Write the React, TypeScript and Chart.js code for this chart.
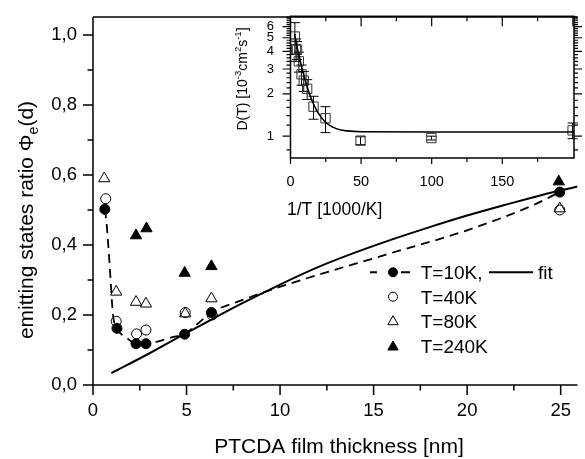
import React, { useEffect, useRef } from 'react';
import { Chart, registerables } from 'chart.js';

Chart.register(...registerables);

const FONT = "'Liberation Sans', Arial, Helvetica, sans-serif";

// ---------- main plot data ----------
const xTicksMain = [0, 5, 10, 15, 20, 25];
const xMinorMain = [2.5, 7.5, 12.5, 17.5, 22.5];
const yTicksMain = [0, 0.2, 0.4, 0.6, 0.8, 1.0];
const yMinorMain = [0.1, 0.3, 0.5, 0.7, 0.9];

const dT10 = [0.63, 1.28, 2.3, 2.83, 4.9, 6.33, 24.95];
const phiT10 = [0.502, 0.162, 0.118, 0.118, 0.145, 0.207, 0.551];

const dT40 = [0.68, 1.24, 2.33, 2.83, 4.93, 6.37, 24.95];
const phiT40 = [0.532, 0.182, 0.146, 0.157, 0.207, 0.2, 0.5];

const dT80 = [0.6, 1.24, 2.3, 2.83, 4.93, 6.33, 24.95];
const phiT80 = [0.59, 0.266, 0.237, 0.232, 0.204, 0.247, 0.504];

const dT240 = [2.3, 2.86, 4.9, 6.33, 24.9];
const phiT240 = [0.427, 0.447, 0.32, 0.339, 0.581];

// dashed guide through T=10K
const dGuide = [0.63, 0.72, 0.9, 1.07, 1.28, 1.8, 2.3, 2.83, 3.3, 4.2, 4.9, 5.6, 6.33, 7.74, 10.37, 15.63, 20, 23.5, 24.95];
const phiGuide = [0.502, 0.466, 0.334, 0.2, 0.162, 0.135, 0.118, 0.118, 0.122, 0.136, 0.146, 0.175, 0.207, 0.238, 0.287, 0.372, 0.442, 0.513, 0.551];

// solid fit
const dFit = [0.98, 3, 4.9, 6.3, 7.7, 10, 12, 14, 16, 18, 20, 22, 24, 25.9];
const phiFit = [0.034, 0.09, 0.146, 0.186, 0.226, 0.287, 0.336, 0.378, 0.416, 0.451, 0.484, 0.514, 0.543, 0.567];

const legendLabels = ['T=10K,', 'T=40K', 'T=80K', 'T=240K'];
const fitLabel = 'fit';

// ---------- inset data ----------
const xTicksInset = [0, 50, 100, 150];
const xMinorInset = [25, 75, 125, 175];
const xMajorInsetTop = [50, 100, 150, 200];
const yTicksInset = [1, 2, 3, 4, 5, 6];
const yMinorInset = [0.8, 1.2, 1.4, 1.6, 1.8, 2.2, 2.4, 2.6, 2.8, 3.2, 3.4, 3.6, 3.8, 4.2, 4.4, 4.6, 4.8, 5.2, 5.4, 5.6, 5.8, 6.2, 6.4, 6.6, 6.8, 7.0];

const invT = [3.1, 3.9, 4.6, 5.9, 7.8, 9.4, 11.8, 16.3, 24.8, 49.6, 99.8, 199.8];
const diffD = [5.1, 4.15, 4.1, 3.4, 2.75, 2.48, 2.17, 1.62, 1.34, 0.93, 0.97, 1.1];
const diffErr = [1.3, 0.75, 0.6, 0.55, 0.45, 0.4, 0.35, 0.3, 0.28, 0.06, 0.03, 0.14];

const invTFit = [3, 4, 5, 6, 8, 10, 12, 14, 16, 18, 20, 25, 30, 35, 40, 50, 100, 201];
const dFitInset = [5.3, 4.6, 4.15, 3.74, 3.08, 2.58, 2.21, 1.93, 1.72, 1.56, 1.44, 1.25, 1.16, 1.11, 1.09, 1.075, 1.07, 1.07];

const insetXTitle = '1/T [1000/K]';
const mainXTitle = 'PTCDA film thickness [nm]';

const pts = (xs: number[], ys: number[]) => xs.map((x, i) => ({ x, y: ys[i] }));

function marker(ctx: CanvasRenderingContext2D, kind: string, x: number, y: number, r: number, filled: boolean) {
  ctx.beginPath();
  if (kind === 'circle') {
    ctx.arc(x, y, r, 0, Math.PI * 2);
  } else {
    for (let k = 0; k < 3; k++) {
      const a = (k * 2 * Math.PI) / 3;
      const px = x + Math.sin(a) * r;
      const py = y - Math.cos(a) * r;
      if (k === 0) ctx.moveTo(px, py);
      else ctx.lineTo(px, py);
    }
    ctx.closePath();
  }
  if (filled) {
    ctx.fillStyle = '#000';
    ctx.fill();
  }
  ctx.strokeStyle = '#000';
  ctx.lineWidth = 1;
  ctx.stroke();
}

function drawSegments(ctx: CanvasRenderingContext2D, segs: { t: string; size: number; dy: number }[], cx: number) {
  let total = 0;
  const widths = segs.map((s) => {
    ctx.font = `${s.size}px ${FONT}`;
    const w = ctx.measureText(s.t).width;
    total += w;
    return w;
  });
  let x = cx - total / 2;
  segs.forEach((s, i) => {
    ctx.font = `${s.size}px ${FONT}`;
    ctx.fillText(s.t, x, s.dy);
    x += widths[i];
  });
}

const mainDecor = {
  id: 'mainDecor',
  afterDraw(chart: any) {
    const { ctx, chartArea: a } = chart;
    const xs = chart.scales.x;
    const ys = chart.scales.y;
    ctx.save();
    ctx.strokeStyle = '#000';
    ctx.lineWidth = 1.5;
    ctx.beginPath();
    ctx.moveTo(a.left, a.top);
    ctx.lineTo(a.left, a.bottom);
    ctx.lineTo(a.right, a.bottom);
    ctx.moveTo(a.left, a.top);
    ctx.lineTo(a.right, a.top);
    ctx.stroke();
    ctx.beginPath();
    xTicksMain.forEach((v) => {
      const p = xs.getPixelForValue(v);
      ctx.moveTo(p, a.bottom);
      ctx.lineTo(p, a.bottom + 10);
    });
    xMinorMain.forEach((v) => {
      const p = xs.getPixelForValue(v);
      ctx.moveTo(p, a.bottom);
      ctx.lineTo(p, a.bottom + 5.5);
    });
    yTicksMain.forEach((v) => {
      const p = ys.getPixelForValue(v);
      ctx.moveTo(a.left, p);
      ctx.lineTo(a.left - 10, p);
    });
    yMinorMain.forEach((v) => {
      const p = ys.getPixelForValue(v);
      ctx.moveTo(a.left, p);
      ctx.lineTo(a.left - 5.5, p);
    });
    ctx.stroke();

    // axis titles
    ctx.fillStyle = '#000';
    ctx.textBaseline = 'alphabetic';
    ctx.textAlign = 'left';
    ctx.font = `21px ${FONT}`;
    const tw = ctx.measureText(mainXTitle).width;
    ctx.fillText(mainXTitle, 339 - tw / 2, 453);

    ctx.save();
    ctx.translate(33, 220);
    ctx.rotate(-Math.PI / 2);
    drawSegments(
      ctx,
      [
        { t: 'emitting states ratio \u03A6', size: 21, dy: 0 },
        { t: 'e', size: 14, dy: 5 },
        { t: '(d)', size: 21, dy: 0 },
      ],
      0
    );
    ctx.restore();

    // legend
    const rows = [272.3, 296.7, 320.7, 346];
    const mx = 393;
    ctx.lineWidth = 2;
    ctx.beginPath();
    ctx.moveTo(370, rows[0]);
    ctx.lineTo(377, rows[0]);
    ctx.moveTo(401, rows[0]);
    ctx.lineTo(410, rows[0]);
    ctx.moveTo(489, rows[0]);
    ctx.lineTo(533, rows[0]);
    ctx.stroke();
    marker(ctx, 'circle', mx, rows[0], 4.5, true);
    marker(ctx, 'circle', mx, rows[1], 4.5, false);
    marker(ctx, 'triangle', mx, rows[2] + 1, 6, false);
    marker(ctx, 'triangle', mx, rows[3] + 1, 6, true);
    ctx.font = `19px ${FONT}`;
    ctx.fillStyle = '#000';
    legendLabels.forEach((l, i) => ctx.fillText(l, 420.7, rows[i] + 6.8));
    ctx.fillText(fitLabel, 538, rows[0] + 6.8);
    ctx.restore();
  },
};

const insetDecor = {
  id: 'insetDecor',
  beforeDatasetsDraw(chart: any) {
    const { ctx } = chart;
    const xs = chart.scales.x;
    const ys = chart.scales.y;
    ctx.save();
    ctx.strokeStyle = '#000';
    ctx.lineWidth = 1;
    ctx.beginPath();
    invT.forEach((x, i) => {
      const px = xs.getPixelForValue(x);
      const top = ys.getPixelForValue(diffD[i] + diffErr[i]);
      const bot = ys.getPixelForValue(diffD[i] - diffErr[i]);
      ctx.moveTo(px, top);
      ctx.lineTo(px, bot);
      ctx.moveTo(px - 5, top);
      ctx.lineTo(px + 5, top);
      ctx.moveTo(px - 5, bot);
      ctx.lineTo(px + 5, bot);
    });
    ctx.stroke();
    ctx.restore();
  },
  afterDraw(chart: any) {
    const { ctx, chartArea: a } = chart;
    const xs = chart.scales.x;
    const ys = chart.scales.y;
    ctx.save();
    ctx.strokeStyle = '#000';
    ctx.lineWidth = 1.5;
    ctx.strokeRect(a.left, a.top, a.right - a.left, a.bottom - a.top);
    ctx.lineWidth = 1.2;
    ctx.beginPath();
    xTicksInset.forEach((v) => {
      const p = xs.getPixelForValue(v);
      ctx.moveTo(p, a.bottom);
      ctx.lineTo(p, a.bottom + 6);
    });
    xMinorInset.forEach((v) => {
      const p = xs.getPixelForValue(v);
      ctx.moveTo(p, a.bottom);
      ctx.lineTo(p, a.bottom + 4);
      ctx.moveTo(p, a.top);
      ctx.lineTo(p, a.top + 5);
    });
    xMajorInsetTop.forEach((v) => {
      const p = xs.getPixelForValue(v);
      ctx.moveTo(p, a.top);
      ctx.lineTo(p, a.top + 10);
    });
    yTicksInset.forEach((v) => {
      const p = ys.getPixelForValue(v);
      ctx.moveTo(a.left, p);
      ctx.lineTo(a.left - 8, p);
      ctx.moveTo(a.right, p);
      ctx.lineTo(a.right + 8, p);
    });
    yMinorInset.forEach((v) => {
      const p = ys.getPixelForValue(v);
      ctx.moveTo(a.left, p);
      ctx.lineTo(a.left - 4, p);
      ctx.moveTo(a.right, p);
      ctx.lineTo(a.right + 4, p);
    });
    ctx.stroke();

    ctx.fillStyle = '#000';
    ctx.textAlign = 'left';
    ctx.textBaseline = 'alphabetic';
    ctx.font = `17.5px ${FONT}`;
    ctx.fillText(insetXTitle, 287, 215);

    ctx.save();
    ctx.translate(247, 79);
    ctx.rotate(-Math.PI / 2);
    drawSegments(
      ctx,
      [
        { t: 'D(T) [10', size: 14, dy: 0 },
        { t: '-3', size: 9.5, dy: -6 },
        { t: 'cm', size: 14, dy: 0 },
        { t: '2', size: 9.5, dy: -6 },
        { t: 's', size: 14, dy: 0 },
        { t: '-1', size: 9.5, dy: -6 },
        { t: ']', size: 14, dy: 0 },
      ],
      0
    );
    ctx.restore();
    ctx.restore();
  },
};

export default function App() {
  const mainRef = useRef<HTMLCanvasElement>(null);
  const insetRef = useRef<HTMLCanvasElement>(null);

  useEffect(() => {
    document.body.style.margin = '0';
    const main = new Chart(mainRef.current as HTMLCanvasElement, {
      type: 'scatter',
      data: {
        datasets: [
          {
            data: pts(dFit, phiFit),
            showLine: true,
            pointRadius: 0,
            borderColor: '#000',
            borderWidth: 2,
            cubicInterpolationMode: 'monotone',
            fill: false,
          } as any,
          {
            data: pts(dGuide, phiGuide),
            showLine: true,
            pointRadius: 0,
            borderColor: '#000',
            borderWidth: 1.8,
            borderDash: [9, 6],
            cubicInterpolationMode: 'monotone',
            fill: false,
          } as any,
          {
            data: pts(dT80, phiT80),
            pointStyle: 'triangle',
            pointRadius: 6.5,
            backgroundColor: 'rgba(0,0,0,0)',
            borderColor: '#000',
            borderWidth: 1,
          },
          {
            data: pts(dT40, phiT40),
            pointStyle: 'circle',
            pointRadius: 5,
            backgroundColor: 'rgba(0,0,0,0)',
            borderColor: '#000',
            borderWidth: 1,
          },
          {
            data: pts(dT240, phiT240),
            pointStyle: 'triangle',
            pointRadius: 6.5,
            backgroundColor: '#000',
            borderColor: '#000',
            borderWidth: 1,
          },
          {
            data: pts(dT10, phiT10),
            pointStyle: 'circle',
            pointRadius: 5,
            backgroundColor: '#000',
            borderColor: '#000',
            borderWidth: 1,
          },
        ],
      },
      options: {
        responsive: false,
        maintainAspectRatio: false,
        animation: false,
        events: [],
        devicePixelRatio: 1,
        layout: { padding: { top: 13, left: 0, right: 0, bottom: 0 } },
        plugins: { legend: { display: false }, tooltip: { enabled: false } },
        scales: {
          x: {
            type: 'linear',
            position: 'bottom',
            min: 0,
            max: 25.9,
            afterBuildTicks: (s: any) => {
              s.ticks = xTicksMain.map((v) => ({ value: v }));
            },
            afterFit: (s: any) => {
              s.height = 74;
            },
            grid: { display: true, drawOnChartArea: false, drawTicks: true, tickLength: 10, color: 'rgba(0,0,0,0)' },
            border: { display: false },
            ticks: {
              autoSkip: false,
              maxRotation: 0,
              padding: 5,
              color: '#000',
              font: { family: FONT, size: 18.5 },
              callback: (v: any) => String(v),
            },
          },
          y: {
            type: 'linear',
            position: 'left',
            min: 0,
            max: 1.051,
            afterBuildTicks: (s: any) => {
              s.ticks = yTicksMain.map((v) => ({ value: v }));
            },
            afterFit: (s: any) => {
              s.width = 93;
            },
            grid: { display: true, drawOnChartArea: false, drawTicks: true, tickLength: 10, color: 'rgba(0,0,0,0)' },
            border: { display: false },
            ticks: {
              autoSkip: false,
              padding: 6,
              color: '#000',
              font: { family: FONT, size: 18.5 },
              callback: (v: any) => Number(v).toFixed(1).replace('.', ','),
            },
          },
        },
      } as any,
      plugins: [mainDecor],
    });

    const inset = new Chart(insetRef.current as HTMLCanvasElement, {
      type: 'scatter',
      data: {
        datasets: [
          {
            data: pts(invTFit, dFitInset),
            showLine: true,
            pointRadius: 0,
            borderColor: '#000',
            borderWidth: 1.6,
            cubicInterpolationMode: 'monotone',
            fill: false,
          } as any,
          {
            data: pts(invT, diffD),
            pointStyle: 'rect',
            pointRadius: 6.6,
            backgroundColor: 'rgba(255,255,255,0)',
            borderColor: '#333',
            borderWidth: 1,
          },
        ],
      },
      options: {
        responsive: false,
        maintainAspectRatio: false,
        animation: false,
        events: [],
        devicePixelRatio: 1,
        layout: { padding: { top: 13, left: 0, right: 11, bottom: 0 } },
        plugins: { legend: { display: false }, tooltip: { enabled: false } },
        scales: {
          x: {
            type: 'linear',
            position: 'bottom',
            min: 0,
            max: 200.8,
            afterBuildTicks: (s: any) => {
              s.ticks = xTicksInset.map((v) => ({ value: v }));
            },
            afterFit: (s: any) => {
              s.height = 301;
            },
            grid: { display: true, drawOnChartArea: false, drawTicks: true, tickLength: 6, color: 'rgba(0,0,0,0)' },
            border: { display: false },
            ticks: {
              autoSkip: false,
              maxRotation: 0,
              padding: 9,
              color: '#000',
              font: { family: FONT, size: 14.5 },
              callback: (v: any) => String(v),
            },
          },
          y: {
            type: 'logarithmic',
            position: 'left',
            min: 0.7,
            max: 7.1,
            afterBuildTicks: (s: any) => {
              s.ticks = yTicksInset.map((v) => ({ value: v }));
            },
            afterFit: (s: any) => {
              s.width = 290.5;
            },
            grid: { display: true, drawOnChartArea: false, drawTicks: true, tickLength: 8, color: 'rgba(0,0,0,0)' },
            border: { display: false },
            ticks: {
              autoSkip: false,
              padding: 8.5,
              color: '#000',
              font: { family: FONT, size: 13 },
              callback: (v: any) => String(v),
            },
          },
        },
      } as any,
      plugins: [insetDecor],
    });

    return () => {
      main.destroy();
      inset.destroy();
    };
  }, []);

  return (
    <div style={{ position: 'relative', width: 585, height: 459, background: '#fff', overflow: 'hidden' }}>
      <canvas ref={mainRef} width={585} height={459} style={{ position: 'absolute', left: 0, top: 0 }} />
      <canvas ref={insetRef} width={585} height={459} style={{ position: 'absolute', left: 0, top: 0 }} />
    </div>
  );
}
